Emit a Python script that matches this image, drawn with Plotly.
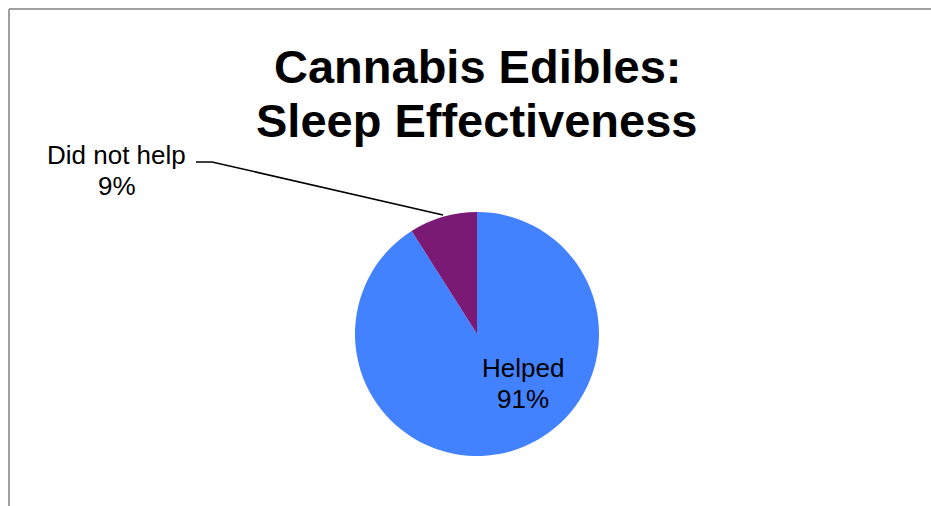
import plotly.graph_objects as go

W, H = 931, 506

title_lines = ["Cannabis Edibles:", "Sleep Effectiveness"]
categories = ["Helped", "Did not help"]
values = [91, 9]
colors = ["#4281FF", "#7B1A74"]

total = sum(values)
pcts = [f"{round(v / total * 100)}%" for v in values]


def px(x):
    return x / W


def py(y):
    return 1 - y / H


fig = go.Figure()
fig.add_trace(go.Pie(
    labels=categories,
    values=values,
    marker=dict(colors=colors, line=dict(width=0)),
    sort=False,
    direction="clockwise",
    rotation=0,
    textinfo="none",
    hoverinfo="label+percent",
    showlegend=False,
    domain=dict(x=[px(355), px(599)], y=[py(456), py(212)]),
))

annotations = []
# Title lines
for text, yc in zip(title_lines, [66, 121]):
    annotations.append(dict(
        text=f"<b>{text}</b>", x=px(477), y=py(yc), xref="paper", yref="paper",
        xanchor="center", yanchor="middle", showarrow=False,
        font=dict(family="Liberation Sans, Arial, sans-serif", size=47, color="#000000"),
    ))

# Slice labels (name line + percent line)
label_pos = {"Helped": (523, 368, 399), "Did not help": (117, 155, 186)}
for cat, pct in zip(categories, pcts):
    xc, y1, y2 = label_pos[cat]
    for text, yc in [(cat, y1), (pct, y2)]:
        annotations.append(dict(
            text=text, x=px(xc), y=py(yc), xref="paper", yref="paper",
            xanchor="center", yanchor="middle", showarrow=False,
            font=dict(family="Liberation Sans, Arial, sans-serif", size=26, color="#000000"),
        ))

shapes = [
    # leader line
    dict(type="path", xref="paper", yref="paper",
         path=f"M {px(196)},{py(162)} L {px(212)},{py(162)} L {px(443)},{py(215)}",
         line=dict(color="#000000", width=1.5)),
    # chart border (top and left edges visible)
    dict(type="line", xref="paper", yref="paper", x0=px(9), y0=py(9), x1=px(940), y1=py(9),
         line=dict(color="#A0A0A0", width=2)),
    dict(type="line", xref="paper", yref="paper", x0=px(9), y0=py(9), x1=px(9), y1=py(520),
         line=dict(color="#A0A0A0", width=2)),
]

fig.update_layout(
    width=W, height=H,
    margin=dict(l=0, r=0, t=0, b=0),
    paper_bgcolor="#FFFFFF",
    plot_bgcolor="#FFFFFF",
    annotations=annotations,
    shapes=shapes,
)

fig.write_html("out.html")
